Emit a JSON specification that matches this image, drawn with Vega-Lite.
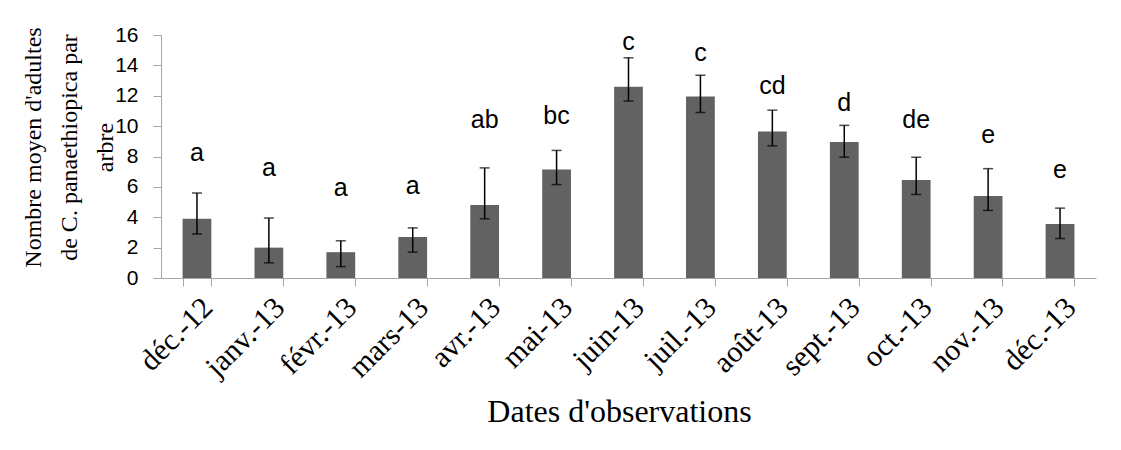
{
  "$schema": "https://vega.github.io/schema/vega-lite/v6.json",
  "width": 935,
  "height": 243,
  "autosize": {"type": "none"},
  "padding": {"left": 161, "top": 35, "right": 25, "bottom": 172},
  "background": "white",
  "config": {"view": {"stroke": null}, "axisY": {"tickCount": 8, "labelOverlap": false}},
  "data": {"values": [
    {"month": "déc.-12", "mean": 3.9, "lo": 2.9, "hi": 5.6, "letter": "a", "label_y": 7.7},
    {"month": "janv.-13", "mean": 2.0, "lo": 1.0, "hi": 3.95, "letter": "a", "label_y": 6.7},
    {"month": "févr.-13", "mean": 1.7, "lo": 0.75, "hi": 2.45, "letter": "a", "label_y": 5.4},
    {"month": "mars-13", "mean": 2.7, "lo": 1.7, "hi": 3.3, "letter": "a", "label_y": 5.5},
    {"month": "avr.-13", "mean": 4.8, "lo": 3.9, "hi": 7.25, "letter": "ab", "label_y": 9.9},
    {"month": "mai-13", "mean": 7.15, "lo": 6.15, "hi": 8.4, "letter": "bc", "label_y": 10.15},
    {"month": "juin-13", "mean": 12.6, "lo": 11.65, "hi": 14.5, "letter": "c", "label_y": 15.0},
    {"month": "juil.-13", "mean": 11.95, "lo": 10.9, "hi": 13.35, "letter": "c", "label_y": 14.3},
    {"month": "août-13", "mean": 9.65, "lo": 8.7, "hi": 11.05, "letter": "cd", "label_y": 12.1},
    {"month": "sept.-13", "mean": 8.95, "lo": 7.95, "hi": 10.05, "letter": "d", "label_y": 11.0},
    {"month": "oct.-13", "mean": 6.45, "lo": 5.5, "hi": 7.95, "letter": "de", "label_y": 9.85},
    {"month": "nov.-13", "mean": 5.4, "lo": 4.45, "hi": 7.2, "letter": "e", "label_y": 8.9},
    {"month": "déc.-13", "mean": 3.55, "lo": 2.6, "hi": 4.6, "letter": "e", "label_y": 6.6}
  ]},
  "encoding": {
    "x": {
      "field": "month",
      "type": "nominal",
      "sort": null,
      "scale": {"paddingInner": 0.6, "paddingOuter": 0.3},
      "axis": {
        "title": "Dates d'observations",
        "titleFont": "Liberation Serif",
        "titleFontSize": 32,
        "titleFontWeight": "normal",
        "titleColor": "black",
        "titlePadding": 14,
        "titleX": 458,
        "labelAngle": -45,
        "labelFont": "Liberation Serif",
        "labelFontSize": 30,
        "labelColor": "black",
        "labelPadding": 6,
        "labelOverlap": false,
        "tickBand": "extent",
        "tickSize": 8,
        "tickColor": "#a6a6a6",
        "domainColor": "#a6a6a6",
        "grid": false
      }
    }
  },
  "layer": [
    {
      "mark": {"type": "bar", "color": "#626262"},
      "encoding": {
        "y": {
          "field": "mean",
          "type": "quantitative",
          "scale": {"domain": [0, 16], "nice": false},
          "axis": {
            "tickCount": 8,
            "labelOverlap": false,
            "title": ["Nombre moyen d'adultes", "de C. panaethiopica par", "arbre"],
            "titleFont": "Liberation Serif",
            "titleFontSize": 24,
            "titleFontWeight": "normal",
            "titleColor": "black",
            "titleLineHeight": 36,
            "titlePadding": -3,
            "titleY": 112,
            "labelFont": "Liberation Sans",
            "labelFontSize": 21,
            "labelColor": "black",
            "labelPadding": 15,
            "tickSize": 8,
            "tickColor": "#a6a6a6",
            "domainColor": "#a6a6a6",
            "grid": false
          }
        }
      }
    },
    {
      "mark": {"type": "rule", "color": "black", "strokeWidth": 1.5},
      "encoding": {
        "y": {"field": "lo", "type": "quantitative"},
        "y2": {"field": "hi"}
      }
    },
    {
      "mark": {"type": "tick", "color": "black", "size": 10, "thickness": 1.5},
      "encoding": {"y": {"field": "lo", "type": "quantitative"}}
    },
    {
      "mark": {"type": "tick", "color": "black", "size": 10, "thickness": 1.5},
      "encoding": {"y": {"field": "hi", "type": "quantitative"}}
    },
    {
      "mark": {"type": "text", "font": "Liberation Sans", "fontSize": 25, "baseline": "alphabetic", "color": "black"},
      "encoding": {
        "y": {"field": "label_y", "type": "quantitative"},
        "text": {"field": "letter"}
      }
    }
  ]
}
